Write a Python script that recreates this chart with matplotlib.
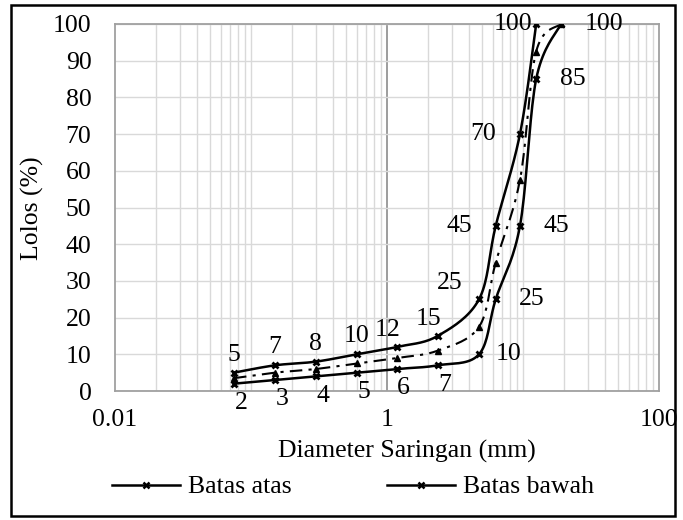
import numpy as np
import matplotlib.pyplot as plt
from matplotlib.ticker import FixedLocator, NullFormatter
from matplotlib.lines import Line2D
from matplotlib.patches import Rectangle

plt.rcParams['font.family'] = ['Liberation Serif', 'DejaVu Serif']

# sieve sizes (mm) and percent passing
sieve = [0.075, 0.15, 0.3, 0.6, 1.18, 2.36, 4.75, 6.3, 9.5, 12.5, 19.0]
batas_atas = [5, 7, 8, 10, 12, 15, 25, 45, 70, 100]
batas_bawah = [2, 3, 4, 5, 6, 7, 10, 25, 45, 85, 100]
tengah = [3.5, 5, 6, 7.5, 9, 11, 17.5, 35, 57.5, 92.5, 100]


def smooth(xs, ys, n=20):
    # Catmull-Rom through the points in (log x, y) space, like Excel smoothed lines
    lx = np.log10(xs) / 4.0
    yy = np.asarray(ys, float) / 100.0 * (368 / 544)
    pts = np.column_stack([lx, yy])
    p = np.vstack([pts[0], pts, pts[-1]])
    out = []
    for i in range(1, len(p) - 2):
        p0, p1, p2, p3 = p[i - 1], p[i], p[i + 1], p[i + 2]
        t = np.linspace(0, 1, n)[:, None]
        c1 = p1 + (p2 - p0) / 6
        c2 = p2 - (p3 - p1) / 6
        seg = ((1 - t) ** 3) * p1 + 3 * ((1 - t) ** 2) * t * c1 + 3 * (1 - t) * t ** 2 * c2 + t ** 3 * p2
        out.append(seg)
    s = np.vstack(out)
    return 10 ** (s[:, 0] * 4.0), s[:, 1] / (368 / 544) * 100.0


fig = plt.figure(figsize=(6.83, 5.2), dpi=100)
ax = fig.add_axes([115 / 683, 1 - 391 / 520, 544 / 683, 367 / 520])

ax.set_xscale('log')
ax.set_xlim(0.01, 100)
ax.set_ylim(0, 100)

fs = 18.5

# gridlines
minor = [m * 10.0 ** e for e in range(-2, 2) for m in range(1, 10)]
ax.xaxis.set_major_locator(FixedLocator([0.01, 1, 100]))
ax.xaxis.set_minor_locator(FixedLocator(minor))
ax.xaxis.set_minor_formatter(NullFormatter())
ax.set_xticklabels(['0.01', '1', '100'])
ax.set_yticks(range(0, 101, 10))
ax.grid(True, which='minor', axis='x', color='#d9d9d9', lw=1.0)
ax.grid(True, which='major', axis='y', color='#d9d9d9', lw=1.0)
ax.axvline(1, color='#8c8c8c', lw=1.2, zorder=1)
ax.tick_params(which='both', length=0, labelsize=fs)
ax.tick_params(axis='x', pad=13)
ax.tick_params(axis='y', pad=17)
for sp in ax.spines.values():
    sp.set_color('#a0a0a0')
    sp.set_linewidth(1.3)

# middle line
mx, my = smooth(sieve, tengah)
ax.plot(mx, my, color='black', lw=1.5, ls=(0, (6, 3, 1.5, 3)), zorder=3)
ax.plot(sieve, tengah, ls='none', marker='^', ms=4, color='black', zorder=4)

# Batas atas
xs = sieve[:len(batas_atas)]
ux, uy = smooth(xs, batas_atas)
ax.plot(ux, uy, color='black', lw=1.8, zorder=3)
ax.plot(xs, batas_atas, ls='none', marker='x', ms=5, mew=2, color='black', zorder=4)
for x, y in zip(xs, batas_atas):
    if y >= 100:
        off, ha = (-3, 0), 'right'
    elif y >= 40:
        off, ha = (-17, 0), 'right'
    elif y >= 20:
        off, ha = (-21, 12), 'center'
    elif x > 1:
        off, ha = (-7, 12), 'center'
    else:
        off, ha = (0, 13), 'center'
    ax.annotate(str(y), (x, y), xytext=off, textcoords='offset points',
                ha=ha, va='center', fontsize=fs)

# Batas bawah
lx, ly = smooth(sieve, batas_bawah)
ax.plot(lx, ly, color='black', lw=1.8, zorder=3)
ax.plot(sieve, batas_bawah, ls='none', marker='x', ms=5, mew=2, color='black', zorder=4)
for x, y in zip(sieve, batas_bawah):
    if y >= 20:
        off, ha = (17, 0), 'left'
    elif y >= 10:
        off, ha = (12, 0), 'left'
    else:
        off, ha = (5, -14), 'center'
    ax.annotate(str(y), (x, y), xytext=off, textcoords='offset points',
                ha=ha, va='center', fontsize=fs)

fig.text(407 / 683, 1 - 451 / 520, 'Diameter Saringan (mm)', fontsize=fs,
         ha='center', va='center')
fig.text(32 / 683, 1 - 208 / 520, 'Lolos (%)', fontsize=fs, rotation=90,
         ha='center', va='center')

handles = [Line2D([], [], color='black', lw=1.8, marker='x', ms=4, mew=1.8),
           Line2D([], [], color='black', lw=1.8, marker='x', ms=4, mew=1.8)]
fig.legend(handles, ['Batas atas', 'Batas bawah'], loc='center', ncol=2,
           bbox_to_anchor=(353 / 683, 1 - 487 / 520), frameon=False, fontsize=fs,
           handlelength=2.65, handletextpad=0.3, columnspacing=3.7)

fig.patches.append(Rectangle((11 / 683, 4 / 520), 664 / 683, 511 / 520, transform=fig.transFigure,
                             fill=False, edgecolor='black', lw=1.8))

fig.savefig('out.png', dpi=100)
